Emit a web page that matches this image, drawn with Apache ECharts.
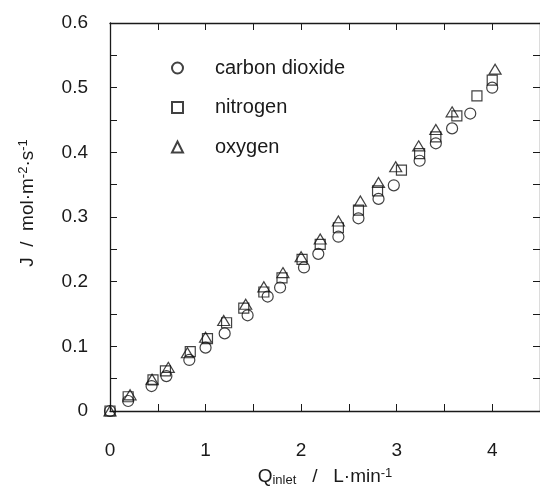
<!DOCTYPE html>
<html>
<head>
    <meta charset="utf-8">
    <script type="text/javascript" src="https://cdn.jsdelivr.net/npm/echarts@6/dist/echarts.min.js"></script>
</head>
<body style="margin: 0">
<div id="container" style="width: 540px; height: 489px"></div>
<script type="text/javascript">
    // values
    var seriesNames = ['carbon dioxide', 'nitrogen', 'oxygen'];

    var co2X = [0, 0.19, 0.435, 0.59, 0.83, 1.0, 1.2, 1.44, 1.65, 1.78, 2.03, 2.18, 2.39, 2.60, 2.81, 2.97, 3.24, 3.41, 3.58, 3.77, 4.00];
    var co2Y = [0, 0.0155, 0.0386, 0.054, 0.079, 0.098, 0.120, 0.148, 0.177, 0.191, 0.222, 0.243, 0.2695, 0.298, 0.328, 0.349, 0.387, 0.414, 0.437, 0.460, 0.500];

    var n2X = [0, 0.19, 0.45, 0.58, 0.84, 1.02, 1.22, 1.40, 1.61, 1.80, 2.01, 2.20, 2.39, 2.60, 2.80, 3.05, 3.24, 3.41, 3.63, 3.84, 4.00];
    var n2Y = [0, 0.022, 0.048, 0.062, 0.0917, 0.112, 0.1365, 0.159, 0.184, 0.206, 0.2345, 0.2577, 0.2834, 0.3107, 0.3405, 0.3725, 0.398, 0.424, 0.4564, 0.4873, 0.5116];

    var o2X = [0, 0.21, 0.44, 0.61, 0.81, 1.0, 1.19, 1.42, 1.61, 1.81, 2.0, 2.20, 2.39, 2.62, 2.81, 2.99, 3.23, 3.41, 3.58, 4.03];
    var o2Y = [0, 0.025, 0.049, 0.0675, 0.090, 0.114, 0.140, 0.165, 0.192, 0.214, 0.2385, 0.266, 0.2937, 0.3246, 0.3535, 0.3776, 0.410, 0.4354, 0.4626, 0.5286];

    function pairs(xs, ys) {
        return xs.map(function (x, i) { return [x, ys[i]]; });
    }

    var dom = document.getElementById('container');
    var myChart = echarts.init(dom);

    var font = 'Liberation Sans, Arial, sans-serif';
    var textColor = '#1a1a1a';
    var lineCol = '#1a1a1a';

    function xLabel(v) {
        var r = Math.round(v * 10);
        return r % 10 === 0 ? String(r / 10) : '';
    }
    function yLabel(v) {
        var r = Math.round(v * 100);
        return r % 10 === 0 ? String(r / 100) : '';
    }

    var markStyle = {
        color: 'transparent',
        borderColor: '#111',
        borderWidth: 1.2
    };

    function axisBase(show) {
        return {
            type: 'value',
            axisLine: { show: true, onZero: false, lineStyle: { color: lineCol, width: 1.3 } },
            axisTick: { show: true, inside: true, length: 7, lineStyle: { color: lineCol, width: 1 } },
            splitLine: { show: false },
            axisLabel: { show: show, color: textColor, fontFamily: font, fontSize: 19 }
        };
    }

    var xBottom = axisBase(true);
    xBottom.min = 0; xBottom.max = 4.5; xBottom.interval = 0.5;
    xBottom.position = 'bottom';
    xBottom.axisLabel.margin = 30;
    xBottom.axisLabel.formatter = xLabel;
    xBottom.name = '{q|Q}{sub|inlet}{q|   /   L·min}{sup|-1}';
    xBottom.nameLocation = 'middle';
    xBottom.nameGap = 56;
    xBottom.nameTextStyle = {
        color: textColor, fontFamily: font, fontSize: 19,
        rich: {
            q: { fontSize: 19, fontFamily: font, color: textColor, lineHeight: 20 },
            sub: { fontSize: 13, fontFamily: font, color: textColor, verticalAlign: 'bottom', lineHeight: 16 },
            sup: { fontSize: 13, fontFamily: font, color: textColor, verticalAlign: 'top', lineHeight: 14 }
        }
    };

    var xTop = axisBase(false);
    xTop.min = 0; xTop.max = 4.5; xTop.interval = 0.5;
    xTop.position = 'top';

    var yLeft = axisBase(true);
    yLeft.min = 0; yLeft.max = 0.6; yLeft.interval = 0.05;
    yLeft.position = 'left';
    yLeft.axisLabel.margin = 22;
    yLeft.axisLabel.formatter = yLabel;
    yLeft.name = '{t|J  /  mol·m}{sup|-2}{t|·s}{sup|-1}';
    yLeft.nameLocation = 'middle';
    yLeft.nameGap = 71;
    yLeft.nameTextStyle = {
        color: textColor, fontFamily: font, fontSize: 19,
        padding: [0, 0, 0, 28],
        rich: {
            t: { fontSize: 19, fontFamily: font, color: textColor, lineHeight: 22 },
            sup: { fontSize: 13, fontFamily: font, color: textColor, verticalAlign: 'top', lineHeight: 14 }
        }
    };

    var yRight = axisBase(false);
    yRight.min = 0; yRight.max = 0.6; yRight.interval = 0.05;
    yRight.position = 'right';

    var option = {
        animation: false,
        backgroundColor: '#fff',
        grid: { left: 110, right: 0, top: 23, bottom: 78, outerBoundsMode: 'none', containLabel: false },
        legend: {
            orient: 'vertical',
            left: 166,
            top: 53,
            itemWidth: 11,
            itemHeight: 11,
            itemGap: 19.5,
            textStyle: { color: textColor, fontFamily: font, fontSize: 20, padding: [0, 0, 0, 27] },
            data: seriesNames
        },
        xAxis: [xBottom, xTop],
        yAxis: [yLeft, yRight],
        series: [
            { name: seriesNames[0], type: 'scatter', symbol: 'circle', symbolSize: 11, itemStyle: markStyle, data: pairs(co2X, co2Y) },
            { name: seriesNames[1], type: 'scatter', symbol: 'rect', symbolSize: 10, itemStyle: markStyle, data: pairs(n2X, n2Y) },
            { name: seriesNames[2], type: 'scatter', symbol: 'triangle', symbolSize: [12, 10], itemStyle: markStyle, data: pairs(o2X, o2Y) }
        ]
    };

    myChart.setOption(option);
</script>
</body>
</html>
